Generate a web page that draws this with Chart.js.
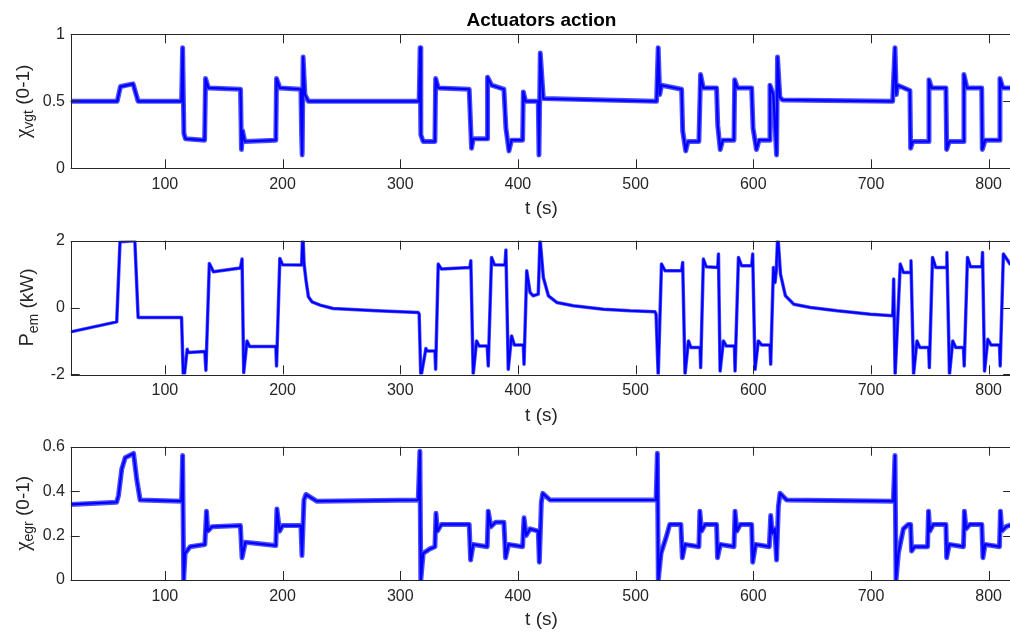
<!DOCTYPE html>
<html>
<head>
<meta charset="utf-8">
<script src="https://cdn.jsdelivr.net/npm/chart.js@4.4.1/dist/chart.umd.min.js"></script>
<style>
  body { margin: 0; background: #fff; overflow: hidden; }
  #fig { position: relative; width: 1010px; height: 634px; overflow: hidden; background: #fff; }
  #fig canvas { position: absolute; left: 0; }
</style>
</head>
<body>
<div id="fig">
  <canvas id="vgtChart" width="1013" height="222" style="top:0"></canvas>
  <canvas id="pemChart" width="1013" height="220" style="top:215px"></canvas>
  <canvas id="egrChart" width="1013" height="209" style="top:425px"></canvas>
</div>
<script>
// shared time axis
var xTicks = [100, 200, 300, 400, 500, 600, 700, 800];

// VGT position (0-1)
var tVgt = [
  20, 59.5, 62.3, 73, 77.3,
  114.2, 115.1, 116.2, 117.5, 133.8,
  134.6, 137, 164.3, 165.1, 166, 168,
  194.3, 194.9, 197.7, 215.6, 216.2, 216.7, 217.5, 219, 222,
  316.1, 316.9, 317.5, 319.5, 329.5, 330.1, 332.3, 358.6,
  360.6, 362, 373.9, 374.2, 377.6, 388.1, 389.8, 392.4, 394.5, 404,
  404.6, 406.5, 417.3, 417.9, 419, 421.6,
  517.8, 519.2, 520.5, 522, 539.1,
  540, 542.6, 544.5, 553.8, 555.2, 557.5, 568.8,
  569.8, 571.9, 574, 583.6, 584.2, 586.5, 598.6,
  599.8, 602.7, 605, 613.6, 614.2, 617, 619.8, 620.6, 622.6, 625,
  718.4, 720.4, 721.5, 722.6, 733.1,
  733.7, 735.5, 748.7, 749.3, 751.5, 763.7,
  764.3, 766.5, 778.4, 779, 781.5, 794.1,
  794.6, 797, 809, 809.6, 812, 820
];
var vgt = [
  0.5, 0.5, 0.61, 0.63, 0.5,
  0.5, 0.9, 0.26, 0.22, 0.21,
  0.67, 0.6, 0.59, 0.14, 0.28, 0.2,
  0.21, 0.67, 0.6, 0.59, 0.25, 0.1, 0.83, 0.55, 0.5,
  0.5, 0.9, 0.25, 0.2, 0.2, 0.67, 0.6, 0.59,
  0.15, 0.22, 0.22, 0.68, 0.62, 0.59, 0.3, 0.13, 0.21, 0.21,
  0.57, 0.5, 0.5, 0.1, 0.86, 0.52,
  0.5, 0.9, 0.55, 0.62, 0.59,
  0.28, 0.13, 0.2, 0.2, 0.7, 0.6, 0.6,
  0.32, 0.14, 0.21, 0.21, 0.66, 0.6, 0.6,
  0.3, 0.14, 0.21, 0.21, 0.62, 0.55, 0.1, 0.83, 0.53, 0.51,
  0.5, 0.9, 0.55, 0.62, 0.58,
  0.15, 0.2, 0.2, 0.66, 0.6, 0.6,
  0.14, 0.2, 0.2, 0.7, 0.6, 0.6,
  0.14, 0.21, 0.21, 0.67, 0.6, 0.6
];

// electric machine power (kW)
var tPem = [
  20, 59.1, 61.9, 74.5, 77.3, 114.2,
  115.6, 116.5, 119, 120, 134, 134.9, 137.8, 141.3, 164.2, 165.6, 167,
  169.8, 172, 194.3, 194.9, 197.7, 200, 216.2, 217.2, 218.3, 220, 222, 225, 232, 243,
  280, 315.3, 316.1, 317.5, 320, 321.8, 323, 329.5, 330.1, 332.3, 335, 359.2, 360, 362,
  364.9, 367, 373.9, 374.8, 377.6, 380, 389, 389.8, 391.8, 394.6, 397, 404.6, 405.2,
  407.5, 410.3, 413, 417.3, 418.8, 421.6, 425.9, 433, 447.1, 472.6, 495.3, 516.5,
  517.4, 519.2, 522, 525, 539.1, 540, 542,
  544.9, 547, 554.8, 555.3, 557.6, 560, 569.8, 570.4, 571.8, 574.6, 577,
  584, 584.5, 587.4, 590, 598.6, 599.5, 601.5, 604.3, 607, 614.2, 614.8,
  617.1, 618.5, 619.5, 620.8, 623.1, 627.3, 634.4, 648.6, 671.3, 699.6, 718.5,
  719.3, 720.5, 724.9, 727.5, 733.4, 734, 736.2, 739.1, 741.5, 749, 749.6,
  752.3, 755, 763.9, 764.5, 766.7, 769.5, 772, 778.6, 779.2, 782, 784.5,
  794.2, 794.8, 796.5, 799.3, 802, 809.2, 809.8, 812.5, 818.2, 820
];
var pem = [
  -0.73, -0.43, 1.97, 2.0, -0.3, -0.3,
  -2.0, -2.05, -1.25, -1.35, -1.32, -1.88, 1.32, 1.07, 1.18, 1.45, -1.95,
  -1.0, -1.17, -1.17, -1.75, 1.47, 1.28, 1.27, 2.3, 1.3, 0.8, 0.32, 0.17, 0.07, -0.03,
  -0.1, -0.15, -0.2, -2.1, -1.6, -1.23, -1.3, -1.3, -1.85, 1.3, 1.15, 1.2, 1.4, -2.0,
  -1.0, -1.15, -1.15, -1.75, 1.5, 1.28, 1.27, 1.72, -1.85, -0.85, -1.12, -1.12, -1.7,
  1.1, 0.45, 0.35, 0.4, 2.07, 0.9, 0.35, 0.15, 0.05, -0.05, -0.1, -0.13,
  -0.2, -2.05, 1.3, 1.1, 1.1, 1.35, -2.0,
  -1.0, -1.2, -1.2, -1.8, 1.45, 1.22, 1.2, 1.6, -1.9, -1.0, -1.15,
  -1.15, -1.9, 1.5, 1.25, 1.25, 1.6, -1.85, -1.0, -1.12, -1.12, -1.7,
  1.2, 0.75, 1.1, 2.2, 1.0, 0.35, 0.1, 0.0, -0.1, -0.2, -0.25,
  0.85, -2.05, 1.3, 1.05, 1.05, 1.4, -2.0, -1.0, -1.2, -1.2, -1.8,
  1.5, 1.2, 1.2, 1.65, -2.0, -1.0, -1.2, -1.2, -1.75, 1.5, 1.22,
  1.22, 1.65, -1.9, -0.95, -1.12, -1.12, -1.75, 1.6, 1.3, 1.3
];

// EGR valve position (0-1)
var tEgr = [
  20, 59, 60.6, 63.4, 66.3, 73.4, 76.2, 79, 114.2,
  115.1, 116, 117.2, 121.5, 134, 135.4, 136.5, 140, 164.2, 165.6,
  168.4, 194.3, 195.2, 197.5, 200, 215.6, 216.5, 218.2, 219.9, 229,
  315.3, 316.7, 317.5, 319.5, 325.1, 329.5, 330.4, 331.5, 335, 358.6,
  359.8, 362, 373.9, 374.8, 377, 381, 388.1, 389.5, 392, 404,
  405.2, 407, 410.3, 417.3, 418.2, 419.9, 421.1, 427.3, 517.4,
  518.5, 519.3, 521.6, 526.4, 529, 538.5, 539.7, 542, 553.8, 554.6,
  556, 559, 568.8, 569.6, 572, 583.6, 584.5, 586, 589, 598.6,
  599.5, 602, 613.6, 614.8, 616.2, 618.2, 619.8, 621.3, 622.7, 628.4, 719,
  720.4, 721.3, 723.3, 727.5, 731.7, 733.7, 734.5, 737, 748.1,
  748.9, 750, 753, 763.7, 764.3, 766.5, 778.6, 779.4, 780.8,
  784, 794.2, 795.1, 797, 809.2, 810, 811.2, 814.7, 820
];
var egr = [
  0.34, 0.35, 0.38, 0.5, 0.55, 0.57, 0.45, 0.36, 0.355,
  0.56, 0.0, 0.12, 0.15, 0.16, 0.31, 0.22, 0.24, 0.245, 0.1,
  0.17, 0.155, 0.32, 0.22, 0.245, 0.245, 0.11, 0.36, 0.385, 0.355,
  0.36, 0.58, 0.0, 0.12, 0.14, 0.15, 0.3, 0.22, 0.25, 0.25,
  0.09, 0.16, 0.15, 0.31, 0.24, 0.26, 0.26, 0.1, 0.16, 0.15,
  0.28, 0.2, 0.23, 0.22, 0.08, 0.35, 0.39, 0.36, 0.36,
  0.57, 0.0, 0.12, 0.2, 0.25, 0.25, 0.1, 0.16, 0.15, 0.31,
  0.22, 0.25, 0.25, 0.1, 0.16, 0.15, 0.31, 0.22, 0.25, 0.25,
  0.08, 0.16, 0.15, 0.29, 0.21, 0.23, 0.09, 0.33, 0.39, 0.36, 0.355,
  0.56, 0.0, 0.12, 0.23, 0.25, 0.25, 0.13, 0.15, 0.15,
  0.31, 0.22, 0.25, 0.25, 0.1, 0.16, 0.15, 0.31, 0.23,
  0.25, 0.25, 0.1, 0.16, 0.15, 0.31, 0.22, 0.24, 0.25
];

var vgtTicks = [0, 0.5, 1];
var pemTicks = [-2, 0, 2];
var egrTicks = [0, 0.2, 0.4, 0.6];

var axisColor = '#262626';
var sans = '"Liberation Sans", Arial, sans-serif';
var serif = '"Liberation Serif", "Times New Roman", serif';

// box around the axes with inward tick marks on all four sides
var boxAxes = {
	id: 'boxAxes',
	afterDatasetsDraw: function (chart) {
		var ctx = chart.ctx, a = chart.chartArea;
		var xs = chart.scales.x, ys = chart.scales.y;
		var len = 9;
		ctx.save();
		ctx.strokeStyle = axisColor;
		ctx.lineWidth = 1;
		ctx.beginPath();
		xs.ticks.forEach(function (t) {
			var px = Math.round(xs.getPixelForValue(t.value)) + 0.5;
			ctx.moveTo(px, a.bottom); ctx.lineTo(px, a.bottom - len);
			ctx.moveTo(px, a.top); ctx.lineTo(px, a.top + len);
		});
		ys.ticks.forEach(function (t) {
			var py = Math.round(ys.getPixelForValue(t.value)) + 0.5;
			ctx.moveTo(a.left, py); ctx.lineTo(a.left + len, py);
			ctx.moveTo(a.right, py); ctx.lineTo(a.right - len, py);
		});
		ctx.stroke();
		ctx.strokeRect(Math.round(a.left) + 0.5, Math.round(a.top) + 0.5,
			Math.round(a.right - a.left), Math.round(a.bottom - a.top));
		ctx.restore();
	}
};

// rotated y label with a subscript part
var yLabel = {
	id: 'yLabel',
	afterDraw: function (chart, args, opts) {
		var ctx = chart.ctx, a = chart.chartArea;
		var parts = opts.parts;
		var cy = (a.top + a.bottom) / 2;
		ctx.save();
		ctx.translate(opts.x, cy);
		ctx.rotate(-Math.PI / 2);
		ctx.fillStyle = axisColor;
		ctx.textBaseline = 'alphabetic';
		var w = 0;
		parts.forEach(function (p) { ctx.font = p.f; w += ctx.measureText(p.text).width; });
		var x = -w / 2;
		parts.forEach(function (p) {
			ctx.font = p.f;
			ctx.fillText(p.text, x, p.dy);
			x += ctx.measureText(p.text).width;
		});
		ctx.restore();
	}
};

function makeChart(id, t, v, yMin, yMax, yTicks, o) {
	var pts = t.map(function (x, i) { return { x: x, y: v[i] }; });
	return new Chart(document.getElementById(id), {
		type: 'line',
		data: {
			datasets: [{
				// measurement noise spread
				data: pts,
				borderColor: 'rgba(0, 0, 255, 0.7)',
				borderWidth: o.band,
				borderJoinStyle: 'round',
				pointRadius: 0,
				tension: 0,
				order: 2
			}, {
				data: pts,
				borderColor: '#0000ff',
				borderWidth: o.lw,
				borderJoinStyle: 'round',
				pointRadius: 0,
				tension: 0,
				order: 1
			}]
		},
		options: {
			responsive: false,
			animation: false,
			events: [],
			layout: { padding: { top: o.padTop, right: 0.8, left: 0, bottom: 0 } },
			scales: {
				x: {
					type: 'linear', min: 20, max: 820,
					afterBuildTicks: function (s) { s.ticks = xTicks.map(function (n) { return { value: n }; }); },
					afterFit: function (s) { s.height = o.xh; },
					grid: { display: false, drawTicks: false },
					border: { display: false },
					ticks: { color: axisColor, font: { family: sans, size: 16 }, padding: 7, maxRotation: 0, autoSkip: false },
					title: { display: true, text: 't (s)', color: axisColor, font: { family: sans, size: 19 }, padding: { top: 0, bottom: o.tPad } }
				},
				y: {
					type: 'linear', min: yMin, max: yMax,
					afterBuildTicks: function (s) { s.ticks = yTicks.map(function (n) { return { value: n }; }); },
					afterFit: function (s) { s.width = 70.7; },
					grid: { display: false, drawTicks: false },
					border: { display: false },
					ticks: { color: axisColor, font: { family: sans, size: 16 }, padding: 5.7, callback: function (val) { return String(val); } }
				}
			},
			plugins: {
				legend: { display: false },
				tooltip: { enabled: false },
				title: o.title ? {
					display: true, text: o.title, color: '#000', fullSize: false,
					font: { family: sans, size: 19, weight: 'bold' },
					padding: { top: 9, bottom: 2.5 }
				} : { display: false },
				yLabel: { x: o.labX, parts: o.parts }
			}
		},
		plugins: [boxAxes, yLabel]
	});
}

var big = '19px ' + sans, sub = '14px ' + sans, greek = '21px ' + serif;

makeChart('vgtChart', tVgt, vgt, 0, 1, vgtTicks, {
	lw: 2.2, band: 5, padTop: 0, xh: 222 - 168.3, tPad: 2.2, title: 'Actuators action', labX: 29,
	parts: [{ text: 'χ', f: greek, dy: 0 }, { text: 'vgt', f: sub, dy: 4 }, { text: ' (0-1)', f: big, dy: 0 }]
});
makeChart('pemChart', tPem, pem, -2, 2, pemTicks, {
	lw: 2, band: 3.5, padTop: 25.7, xh: 220 - 159.3, tPad: 7.5, labX: 33,
	parts: [{ text: 'P', f: '20px ' + sans, dy: 0 }, { text: 'em', f: sub, dy: 5 }, { text: ' (kW)', f: big, dy: 0 }]
});
makeChart('egrChart', tEgr, egr, 0, 0.6, egrTicks, {
	lw: 2.2, band: 5, padTop: 21.7, xh: 209 - 155, tPad: 2.5, labX: 29,
	parts: [{ text: 'χ', f: greek, dy: 0 }, { text: 'egr', f: sub, dy: 4 }, { text: ' (0-1)', f: big, dy: 0 }]
});
</script>
</body>
</html>
